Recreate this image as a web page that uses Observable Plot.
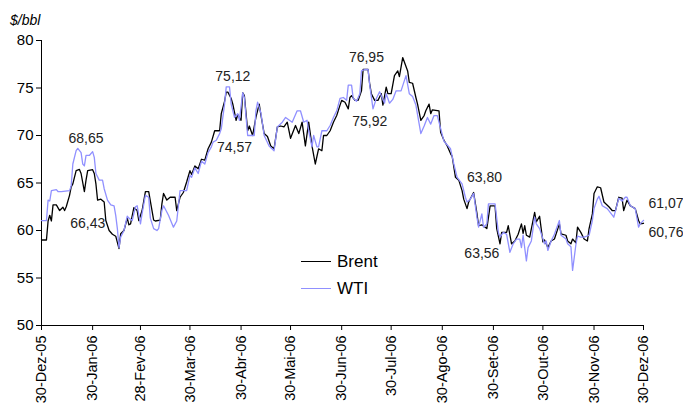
<!DOCTYPE html>
<html>
<head>
<meta charset="utf-8">
<script src="https://cdn.jsdelivr.net/npm/d3@7"></script>
<script src="https://cdn.jsdelivr.net/npm/@observablehq/plot@0.6"></script>
<style>
  html, body { margin: 0; padding: 0; background: #fff; }
  #wrap { position: relative; width: 683px; height: 408px; overflow: hidden; font-family: "Liberation Sans", Arial, sans-serif; }
  #unit { position: absolute; left: 10px; top: 12px; font-size: 14px; font-style: italic; }
  #legend { position: absolute; left: 301px; top: 248px; font-size: 17px; line-height: 27px; }
  #legend .item { display: flex; align-items: center; }
  #legend .sw { width: 30px; height: 0; border-top: 1.4px solid; margin-right: 6px; }
</style>
</head>
<body>
<div id="wrap">
  <div id="chart"></div>
  <div id="unit">$/bbl</div>
  <div id="legend"></div>
</div>
<script>
const seriesNames = ["Brent", "WTI"];
const seriesColors = ["#000000", "#9090ff"];

const brentDates = ["2005-12-30","2006-01-02","2006-01-03","2006-01-04","2006-01-05","2006-01-06","2006-01-08","2006-01-10","2006-01-12","2006-01-13","2006-01-14","2006-01-16","2006-01-17","2006-01-18","2006-01-20","2006-01-22","2006-01-23","2006-01-25","2006-01-26","2006-01-27","2006-01-30","2006-01-31",
"2006-02-01","2006-02-02","2006-02-04","2006-02-06","2006-02-07","2006-02-09","2006-02-11","2006-02-13","2006-02-15","2006-02-16","2006-02-18","2006-02-20","2006-02-21","2006-02-22","2006-02-24","2006-02-26","2006-02-27",
"2006-03-01","2006-03-03","2006-03-05","2006-03-07","2006-03-08","2006-03-09","2006-03-12","2006-03-13","2006-03-14","2006-03-16","2006-03-18","2006-03-21","2006-03-22","2006-03-24","2006-03-26","2006-03-28","2006-03-30","2006-03-31",
"2006-04-02","2006-04-04","2006-04-06","2006-04-08","2006-04-10","2006-04-12","2006-04-14","2006-04-17","2006-04-18","2006-04-20","2006-04-21","2006-04-22","2006-04-24","2006-04-25","2006-04-27","2006-04-28","2006-04-30",
"2006-05-01","2006-05-02","2006-05-04","2006-05-05","2006-05-07","2006-05-09","2006-05-11","2006-05-12","2006-05-14","2006-05-16","2006-05-18","2006-05-20","2006-05-22","2006-05-24","2006-05-26","2006-05-28","2006-05-30",
"2006-06-02","2006-06-04","2006-06-06","2006-06-08","2006-06-10","2006-06-12","2006-06-14","2006-06-16","2006-06-18","2006-06-19","2006-06-21","2006-06-23","2006-06-25","2006-06-27","2006-06-29","2006-06-30",
"2006-07-02","2006-07-04","2006-07-05","2006-07-06","2006-07-08","2006-07-10","2006-07-12","2006-07-13","2006-07-16","2006-07-17","2006-07-18","2006-07-20","2006-07-22","2006-07-24","2006-07-25","2006-07-27","2006-07-28","2006-07-30",
"2006-08-01","2006-08-03","2006-08-04","2006-08-06","2006-08-09","2006-08-10","2006-08-12","2006-08-14","2006-08-15","2006-08-17","2006-08-19","2006-08-20","2006-08-22","2006-08-23","2006-08-24","2006-08-28","2006-08-29","2006-08-31",
"2006-09-02","2006-09-04","2006-09-05","2006-09-07","2006-09-09","2006-09-11","2006-09-12","2006-09-14","2006-09-15","2006-09-18","2006-09-20","2006-09-21","2006-09-23","2006-09-26","2006-09-28",
"2006-10-01","2006-10-02","2006-10-04","2006-10-05","2006-10-08","2006-10-09","2006-10-11","2006-10-13","2006-10-15","2006-10-17","2006-10-18","2006-10-19","2006-10-20","2006-10-22","2006-10-25","2006-10-26","2006-10-28","2006-10-30","2006-10-31",
"2006-11-02","2006-11-04","2006-11-06","2006-11-09","2006-11-10","2006-11-13","2006-11-14","2006-11-16","2006-11-17","2006-11-19","2006-11-20","2006-11-22","2006-11-24","2006-11-26","2006-11-27","2006-11-29","2006-11-30",
"2006-12-02","2006-12-04","2006-12-06","2006-12-09","2006-12-11","2006-12-13","2006-12-15","2006-12-17","2006-12-18","2006-12-20","2006-12-22","2006-12-25","2006-12-27","2006-12-28","2006-12-30"];
const brentPrices = [59.0,59.0,61.0,61.6,61.0,62.7,62.7,62.1,62.45,62.1,62.5,63.7,64.6,64.9,66.3,66.43,66.0,64.1,65.3,66.3,66.4,66.0,
64.9,63.2,63.3,63.0,61.05,60.0,59.6,59.4,58.1,59.65,60.0,61.3,60.6,60.7,62.4,62.1,61.05,
62.1,64.1,64.1,62.1,61.1,61.0,61.1,62.8,63.9,63.2,63.5,63.5,62.1,63.5,64.0,65.1,66.3,65.9,
66.8,66.5,67.5,67.4,68.6,69.3,70.5,70.5,72.3,73.6,74.57,74.57,73.9,73.3,71.6,72.2,71.6,
74.5,74.2,70.5,71.0,70.0,71.9,73.3,72.2,70.2,69.9,68.9,68.6,70.9,71.0,70.9,71.4,69.7,
71.05,70.2,71.4,68.9,71.4,68.9,67.0,68.6,68.4,70.0,70.0,70.5,71.4,72.1,73.2,73.7,
73.5,72.8,74.0,74.2,73.7,73.7,74.7,76.95,76.95,75.4,74.4,73.7,73.7,74.4,73.2,75.1,74.4,74.4,
76.3,76.8,76.2,78.2,76.8,75.6,75.5,74.0,73.3,71.6,72.1,72.6,73.3,72.3,72.7,72.6,70.35,69.5,
68.9,68.1,67.8,65.6,65.3,64.2,63.3,62.3,63.0,64.0,61.8,60.5,60.6,60.2,62.6,
62.6,60.2,58.6,59.8,59.8,60.5,58.6,58.9,59.6,60.7,59.7,60.5,59.5,59.3,61.9,60.9,61.5,58.8,59.0,
58.2,58.9,59.1,60.7,59.65,59.5,58.9,58.6,59.1,58.7,60.35,59.8,59.1,58.9,60.2,61.75,63.9,
64.6,64.5,63.0,62.5,62.1,62.1,63.5,63.4,62.1,63.2,62.6,62.3,61.05,60.7,60.76];

const wtiDates = ["2005-12-30","2006-01-02","2006-01-03","2006-01-04","2006-01-05","2006-01-08","2006-01-09","2006-01-11","2006-01-16","2006-01-17","2006-01-18","2006-01-20","2006-01-21","2006-01-23","2006-01-24","2006-01-25","2006-01-26","2006-01-28","2006-01-30","2006-01-31",
"2006-02-01","2006-02-03","2006-02-05","2006-02-06","2006-02-08","2006-02-10","2006-02-12","2006-02-13","2006-02-14","2006-02-15","2006-02-16","2006-02-18","2006-02-20","2006-02-21","2006-02-23","2006-02-25","2006-02-26","2006-02-28",
"2006-03-01","2006-03-03","2006-03-05","2006-03-06","2006-03-08","2006-03-10","2006-03-11","2006-03-13","2006-03-14","2006-03-17","2006-03-20","2006-03-22","2006-03-24","2006-03-28","2006-03-30","2006-03-31",
"2006-04-02","2006-04-04","2006-04-06","2006-04-08","2006-04-10","2006-04-12","2006-04-13","2006-04-15","2006-04-17","2006-04-18","2006-04-20","2006-04-21","2006-04-23","2006-04-24","2006-04-26","2006-04-28","2006-04-29",
"2006-05-01","2006-05-02","2006-05-04","2006-05-06","2006-05-08","2006-05-09","2006-05-10","2006-05-12","2006-05-14","2006-05-17","2006-05-20","2006-05-22","2006-05-25","2006-05-27","2006-05-31",
"2006-06-03","2006-06-05","2006-06-07","2006-06-09","2006-06-10","2006-06-12","2006-06-13","2006-06-15","2006-06-16","2006-06-18","2006-06-21","2006-06-23","2006-06-25","2006-06-27","2006-06-29",
"2006-07-01","2006-07-03","2006-07-04","2006-07-06","2006-07-07","2006-07-09","2006-07-11","2006-07-12","2006-07-14","2006-07-16","2006-07-17","2006-07-19","2006-07-21","2006-07-23","2006-07-26","2006-07-27","2006-07-29","2006-07-31",
"2006-08-02","2006-08-05","2006-08-08","2006-08-10","2006-08-12","2006-08-14","2006-08-17","2006-08-19","2006-08-21","2006-08-23","2006-08-25","2006-08-27","2006-08-28","2006-08-31",
"2006-09-04","2006-09-06","2006-09-08","2006-09-11","2006-09-13","2006-09-14","2006-09-16","2006-09-18","2006-09-20","2006-09-21","2006-09-23","2006-09-24","2006-09-26","2006-09-27",
"2006-10-01","2006-10-03","2006-10-04","2006-10-06","2006-10-08","2006-10-10","2006-10-12","2006-10-14","2006-10-16","2006-10-17","2006-10-18","2006-10-20","2006-10-21","2006-10-23","2006-10-25","2006-10-26","2006-10-28","2006-10-31",
"2006-11-01","2006-11-02","2006-11-04","2006-11-06","2006-11-09","2006-11-10","2006-11-13","2006-11-14","2006-11-16","2006-11-17","2006-11-19","2006-11-20","2006-11-22","2006-11-24","2006-11-27","2006-11-29","2006-11-30",
"2006-12-02","2006-12-03","2006-12-05","2006-12-08","2006-12-12","2006-12-15","2006-12-17","2006-12-19","2006-12-20","2006-12-22","2006-12-25","2006-12-27","2006-12-28","2006-12-30"];
const wtiPrices = [61.05,61.05,63.2,63.1,64.2,64.3,64.1,64.1,64.2,64.7,67.0,68.4,68.65,68.2,67.0,66.8,67.9,67.9,68.3,67.7,
66.0,65.3,65.3,64.4,63.2,62.7,62.6,61.6,60.2,58.2,59.3,60.0,61.5,61.3,61.05,62.5,62.6,60.7,
61.8,63.7,63.5,61.3,60.2,60.0,60.2,62.1,62.6,61.6,60.35,61.0,64.2,64.2,65.8,65.6,
66.6,66.0,67.3,67.0,68.2,68.8,69.3,69.5,70.2,70.7,73.3,75.12,75.12,73.3,71.9,72.3,71.6,
74.5,74.0,70.0,70.0,70.0,72.6,73.5,72.4,70.0,68.9,68.4,70.9,71.4,71.9,71.4,
72.6,72.6,71.4,71.6,70.5,68.8,70.0,68.8,68.8,70.5,70.5,71.05,71.9,72.6,73.9,
74.0,73.7,75.3,75.3,73.9,73.6,74.4,76.8,76.95,76.95,75.3,72.8,73.9,74.6,73.4,74.4,73.4,73.8,
74.7,74.7,76.3,74.4,74.1,73.2,70.2,71.0,71.9,71.2,72.1,72.1,71.4,69.4,
68.6,67.0,65.6,64.9,63.5,63.0,63.3,63.9,61.4,60.35,61.75,60.35,60.7,62.8,
62.8,59.8,59.3,59.8,59.6,57.7,58.6,59.1,59.1,58.2,59.5,56.8,58.2,58.9,61.4,60.7,60.2,58.6,
58.9,57.9,58.9,59.6,61.05,59.5,59.1,58.6,58.3,55.8,58.5,59.4,59.3,59.3,59.5,61.05,62.3,
63.3,63.6,62.6,62.3,61.4,63.4,63.1,63.5,63.5,62.6,62.3,60.35,60.7,61.07];

const xDomain = ["2005-12-30", "2006-12-30"];
const yDomain = [50, 80];
const yTicks = [50, 55, 60, 65, 70, 75, 80];
const xTickDates = ["2005-12-30","2006-01-30","2006-02-28","2006-03-30","2006-04-30","2006-05-30","2006-06-30","2006-07-30","2006-08-30","2006-09-30","2006-10-30","2006-11-30","2006-12-30"];
const xTickLabels = ["30-Dez-05","30-Jan-06","28-Fev-06","30-Mar-06","30-Abr-06","30-Mai-06","30-Jun-06","30-Jul-06","30-Ago-06","30-Set-06","30-Out-06","30-Nov-06","30-Dez-06"];

// value annotations
const annotTexts  = ["68,65","66,43","75,12","74,57","76,95","75,92","63,80","63,56","61,07","60,76"];
const annotDates  = ["2006-01-26","2006-01-27","2006-04-25","2006-04-26","2006-07-15","2006-07-17","2006-09-14","2006-09-23","2007-01-02","2007-01-02"];
const annotValues = [69.7, 60.75, 76.2, 68.75, 78.2, 71.45, 65.6, 57.6, 62.85, 59.8];
const annotAlign  = ["middle","middle","middle","middle","middle","middle","start","middle","start","start"];

const parse = s => new Date(s + "T00:00:00Z");
const brent = brentDates.map((d, i) => ({date: parse(d), price: brentPrices[i]}));
const wti = wtiDates.map((d, i) => ({date: parse(d), price: wtiPrices[i]}));
const annots = annotTexts.map((t, i) => ({text: t, date: parse(annotDates[i]), value: annotValues[i], align: annotAlign[i]}));
const tickLabelMap = new Map(xTickDates.map((d, i) => [+parse(d), xTickLabels[i]]));
const x0 = parse(xDomain[0]);

const chart = Plot.plot({
  width: 683,
  height: 408,
  marginLeft: 41,
  marginRight: 40,
  marginTop: 40,
  marginBottom: 83,
  style: {fontFamily: '"Liberation Sans", Arial, sans-serif', color: "#000", background: "#fff", overflow: "visible"},
  x: {type: "utc", domain: xDomain.map(parse)},
  y: {domain: yDomain},
  marks: [
    Plot.axisY({ticks: yTicks, tickSize: 5, tickPadding: 3, label: null, fontSize: 15}),
    Plot.axisX({ticks: xTickDates.map(parse), tickFormat: d => tickLabelMap.get(+d), tickRotate: -90, tickSize: 5, tickPadding: 5, label: null, fontSize: 14.5}),
    Plot.ruleX([x0], {stroke: "#000", strokeWidth: 1}),
    Plot.ruleY([yDomain[0]], {stroke: "#000", strokeWidth: 1}),
    Plot.lineY(brent, {x: "date", y: "price", stroke: seriesColors[0], strokeWidth: 1.3}),
    Plot.lineY(wti, {x: "date", y: "price", stroke: seriesColors[1], strokeWidth: 1.3}),
    Plot.text(annots.filter(a => a.align === "middle"), {x: "date", y: "value", text: "text", fontSize: 14, textAnchor: "middle", fill: "#222"}),
    Plot.text(annots.filter(a => a.align === "start"), {x: "date", y: "value", text: "text", fontSize: 14, textAnchor: "start", fill: "#222"})
  ]
});
document.getElementById("chart").appendChild(chart);

const legend = document.getElementById("legend");
seriesNames.forEach((name, i) => {
  const item = document.createElement("div");
  item.className = "item";
  const sw = document.createElement("span");
  sw.className = "sw";
  sw.style.borderTopColor = seriesColors[i];
  const label = document.createElement("span");
  label.textContent = name;
  item.appendChild(sw);
  item.appendChild(label);
  legend.appendChild(item);
});
</script>
</body>
</html>
